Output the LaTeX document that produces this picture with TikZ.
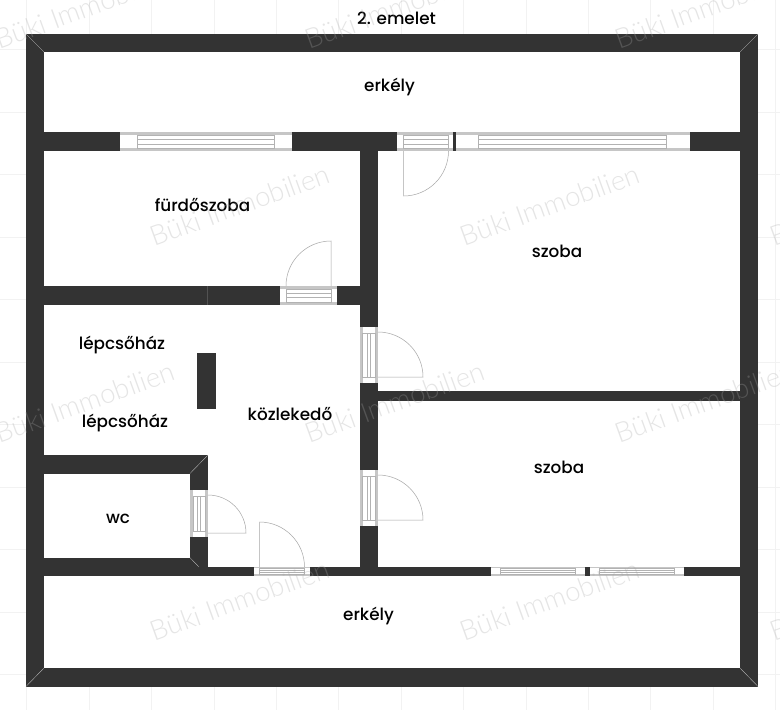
\documentclass[tikz,border=0pt]{standalone}
\usepackage{fontspec}
\setmainfont{Poppins Medium}
\newfontfamily\markfont{Lato Light}
\definecolor{wallgray}{HTML}{333333}
\definecolor{markgray}{gray}{0.65}
\tikzset{
    wall/.style={fill=wallgray},
    seam/.style={draw=gray!45,line width=0.3pt},
    sash/.style={draw=gray!60,line width=0.45pt},
    strip/.style={fill=gray!45},
    swing/.style={draw=gray!70,line width=0.5pt},
    gridline/.style={draw=black!5,line width=0.5pt},
    room/.style={font=\fontsize{16.8}{20}\selectfont,text=black},
    wmark/.style={font=\markfont\fontsize{27.5}{32}\selectfont,text=markgray,text opacity=0.29,rotate=20}
}
\newcommand{\hopening}[5]{
    \fill[white] (#1,#3) rectangle (#2,#4);
    \fill[strip] (#1,#3) rectangle (#2,#3+#5);
    \fill[strip] (#1,#4-#5) rectangle (#2,#4);
}
\newcommand{\hsash}[4]{
    \draw[sash] (#1,#3) rectangle (#2,#4);
    \draw[sash] (#1,#3*0.67+#4*0.33) -- (#2,#3*0.67+#4*0.33);
    \draw[sash] (#1,#3*0.33+#4*0.67) -- (#2,#3*0.33+#4*0.67);
}
\newcommand{\vopening}[4]{
    \fill[white] (#1,#3) rectangle (#2,#4);
    \fill[strip] (#1,#3) rectangle (#1+3,#4);
    \fill[strip] (#2-3,#3) rectangle (#2,#4);
    \draw[sash] (#1+3,#3+6) rectangle (#2-3,#4-6);
    \draw[sash] (#1*0.58+#2*0.42,#3+6) -- (#1*0.58+#2*0.42,#4-6);
    \draw[sash] (#1*0.42+#2*0.58,#3+6) -- (#1*0.42+#2*0.58,#4-6);
}
\begin{document}
\begin{tikzpicture}[x=1pt,y=-1pt]
    \clip (0,0) rectangle (780,710);
    \fill[white] (0,0) rectangle (780,710);
    \foreach \i in {0,...,12}
        \draw[gridline] (26.7+62.4*\i,0) -- (26.7+62.4*\i,710);
    \foreach \i in {0,...,10}
        \draw[gridline] (0,49.5+62.5*\i) -- (780,49.5+62.5*\i);
    \fill[white] (26,34) rectangle (758,686);

    \fill[wall] (26,34) rectangle (758,52);
    \fill[wall] (26,668) rectangle (758,686.5);
    \fill[wall] (26,34) rectangle (44.3,686.5);
    \fill[wall] (740,34) rectangle (758,686.5);
    \fill[wall] (26,132.3) rectangle (758,151);
    \fill[wall] (359.5,151) rectangle (378,576);
    \fill[wall] (44,286) rectangle (360,305);
    \fill[wall] (378,391) rectangle (740,400.5);
    \fill[wall] (44,455) rectangle (208,473.5);
    \fill[wall] (190,455) rectangle (208,576);
    \fill[wall] (44,557.7) rectangle (208,576);
    \fill[wall] (208,566.8) rectangle (740,576);
    \fill[wall] (197,353) rectangle (215.5,409);

    \draw[seam] (26,34) -- (44,52);
    \draw[seam] (758,34) -- (740,52);
    \draw[seam] (26,686.5) -- (44,668);
    \draw[seam] (758,686.5) -- (740,668);
    \draw[seam] (208,455) -- (190,473.5);
    \draw[seam] (190,557.7) -- (199,567);
    \draw[seam,gray!40!wallgray] (206.7,286) -- (206.7,305);

    \hopening{120}{292}{132.3}{151}{3}
    \hsash{137.5}{274.5}{135.3}{148}
    \hopening{397}{453}{132.3}{151}{3}
    \hsash{403.5}{448.5}{135.3}{148}
    \hopening{455.5}{690}{132.3}{151}{3}
    \hsash{478.5}{666}{135.3}{148}
    \fill[wallgray] (453.7,132.3) rectangle (455.3,151);
    \hopening{280}{337}{286}{305}{3}
    \hsash{286}{331}{289}{302}
    \hopening{253.5}{310}{566.8}{576}{1.6}
    \hsash{259.5}{304.5}{568.4}{574.4}
    \hopening{491}{585}{566.8}{576}{1.6}
    \hsash{500.7}{575.7}{568.4}{574.4}
    \hopening{590}{684}{566.8}{576}{1.6}
    \hsash{599}{674}{568.4}{574.4}

    \vopening{359.5}{378}{327}{383}
    \vopening{359.5}{378}{470}{526}
    \vopening{190}{208}{490}{537}

    \draw[swing] (403.5,151) -- (403.5,196) arc[start angle=270,end angle=360,radius=45pt];
    \draw[swing] (331,286) -- (331,241) arc[start angle=90,end angle=180,radius=45pt];
    \draw[swing] (378,377) -- (423,377) arc[start angle=0,end angle=90,radius=45pt];
    \draw[swing] (378,520) -- (423,520) arc[start angle=0,end angle=90,radius=45pt];
    \draw[swing] (208,533) -- (246,533) arc[start angle=0,end angle=90,radius=38pt];
    \draw[swing] (259.5,567) -- (259.5,522) arc[start angle=90,end angle=0,radius=45pt];

    \node[room] (title)  at (396.5,18)  {2. emelet};
    \node[room] (erkely1) at (389.5,87)  {erkély};
    \node[room] (furdo)  at (202.5,205) {fürdőszoba};
    \node[room] (szoba1) at (557,251) {szoba};
    \node[room] (szoba2) at (559,467) {szoba};
    \node[room] (lepcso1) at (122,345) {lépcsőház};
    \node[room] (lepcso2) at (125,423) {lépcsőház};
    \node[room] (kozl)   at (290,414) {közlekedő};
    \node[room] (wc)     at (118,519) {wc};
    \node[room] (erkely2) at (368.5,616) {erkély};

    \foreach \x in {85,395,705} {
        \node[wmark] at (\x,8)  {Büki Immobilien};
        \node[wmark] at (\x,402) {Büki Immobilien};
    }
    \foreach \x in {240,550,860} {
        \node[wmark] at (\x,205) {Büki Immobilien};
        \node[wmark] at (\x,600) {Büki Immobilien};
    }
\end{tikzpicture}
\end{document}
